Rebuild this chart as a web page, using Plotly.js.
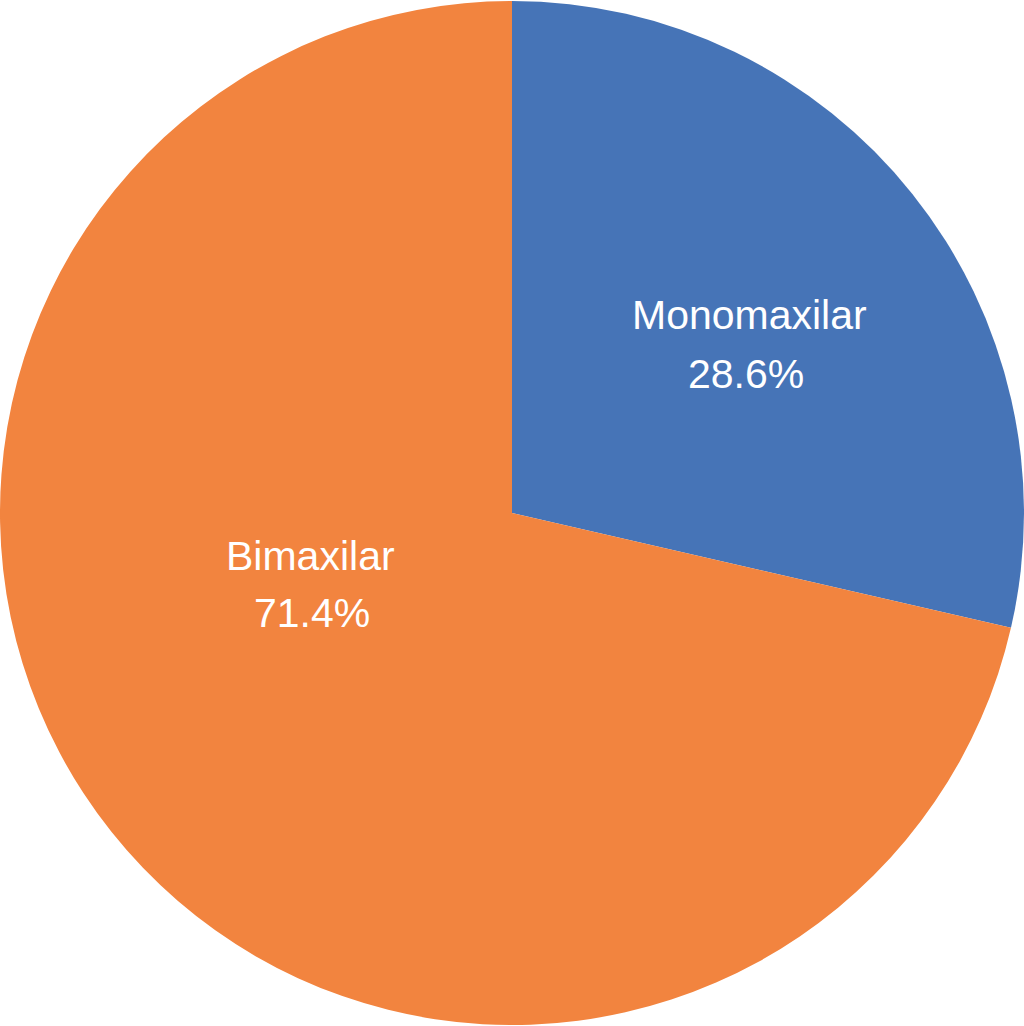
<!DOCTYPE html>
<html>
<head>
<meta charset="utf-8">
<script src="https://cdn.plot.ly/plotly-3.0.1.min.js"></script>
<style>html,body{margin:0;padding:0;background:#fff;}#chart{width:1024px;height:1026px;}</style>
</head>
<body>
<div id="chart"></div>
<script>
const categories = ["Monomaxilar", "Bimaxilar"];
const values = [28.6, 71.4];
const colors = ["#4674B7", "#F2843F"];

// label placement (paper fractions): [name line, percent line]
const labelPos = [
  {x: 0.7324, yName: 0.6930, xPct: 0.7290, yPct: 0.6355},
  {x: 0.3037, yName: 0.4581, xPct: 0.3042, yPct: 0.4025}
];

const total = values.reduce((a, b) => a + b, 0);
const labelFont = {family: "Liberation Sans, Arial, sans-serif", size: 41, color: "#ffffff"};

const annotations = [];
categories.forEach((c, i) => {
  const p = labelPos[i];
  annotations.push({xref: "paper", yref: "paper", x: p.x, y: p.yName, xanchor: "center", yanchor: "middle",
    text: c, showarrow: false, font: labelFont});
  annotations.push({xref: "paper", yref: "paper", x: p.xPct, y: p.yPct, xanchor: "center", yanchor: "middle",
    text: (values[i] / total * 100).toFixed(1) + "%", showarrow: false, font: labelFont});
});

const trace = {
  type: "pie",
  labels: categories,
  values: values,
  sort: false,
  direction: "clockwise",
  rotation: 0,
  marker: {colors: colors, line: {color: "#ffffff", width: 0}},
  textinfo: "none",
  hoverinfo: "none",
  showlegend: false,
  domain: {x: [0, 1], y: [0, 1]}
};

Plotly.newPlot("chart", [trace], {
  width: 1024, height: 1026,
  margin: {l: 0, r: 0, t: 0, b: 0, pad: 0},
  paper_bgcolor: "#ffffff",
  showlegend: false,
  annotations: annotations
}, {displayModeBar: false, staticPlot: true});
</script>
</body>
</html>
